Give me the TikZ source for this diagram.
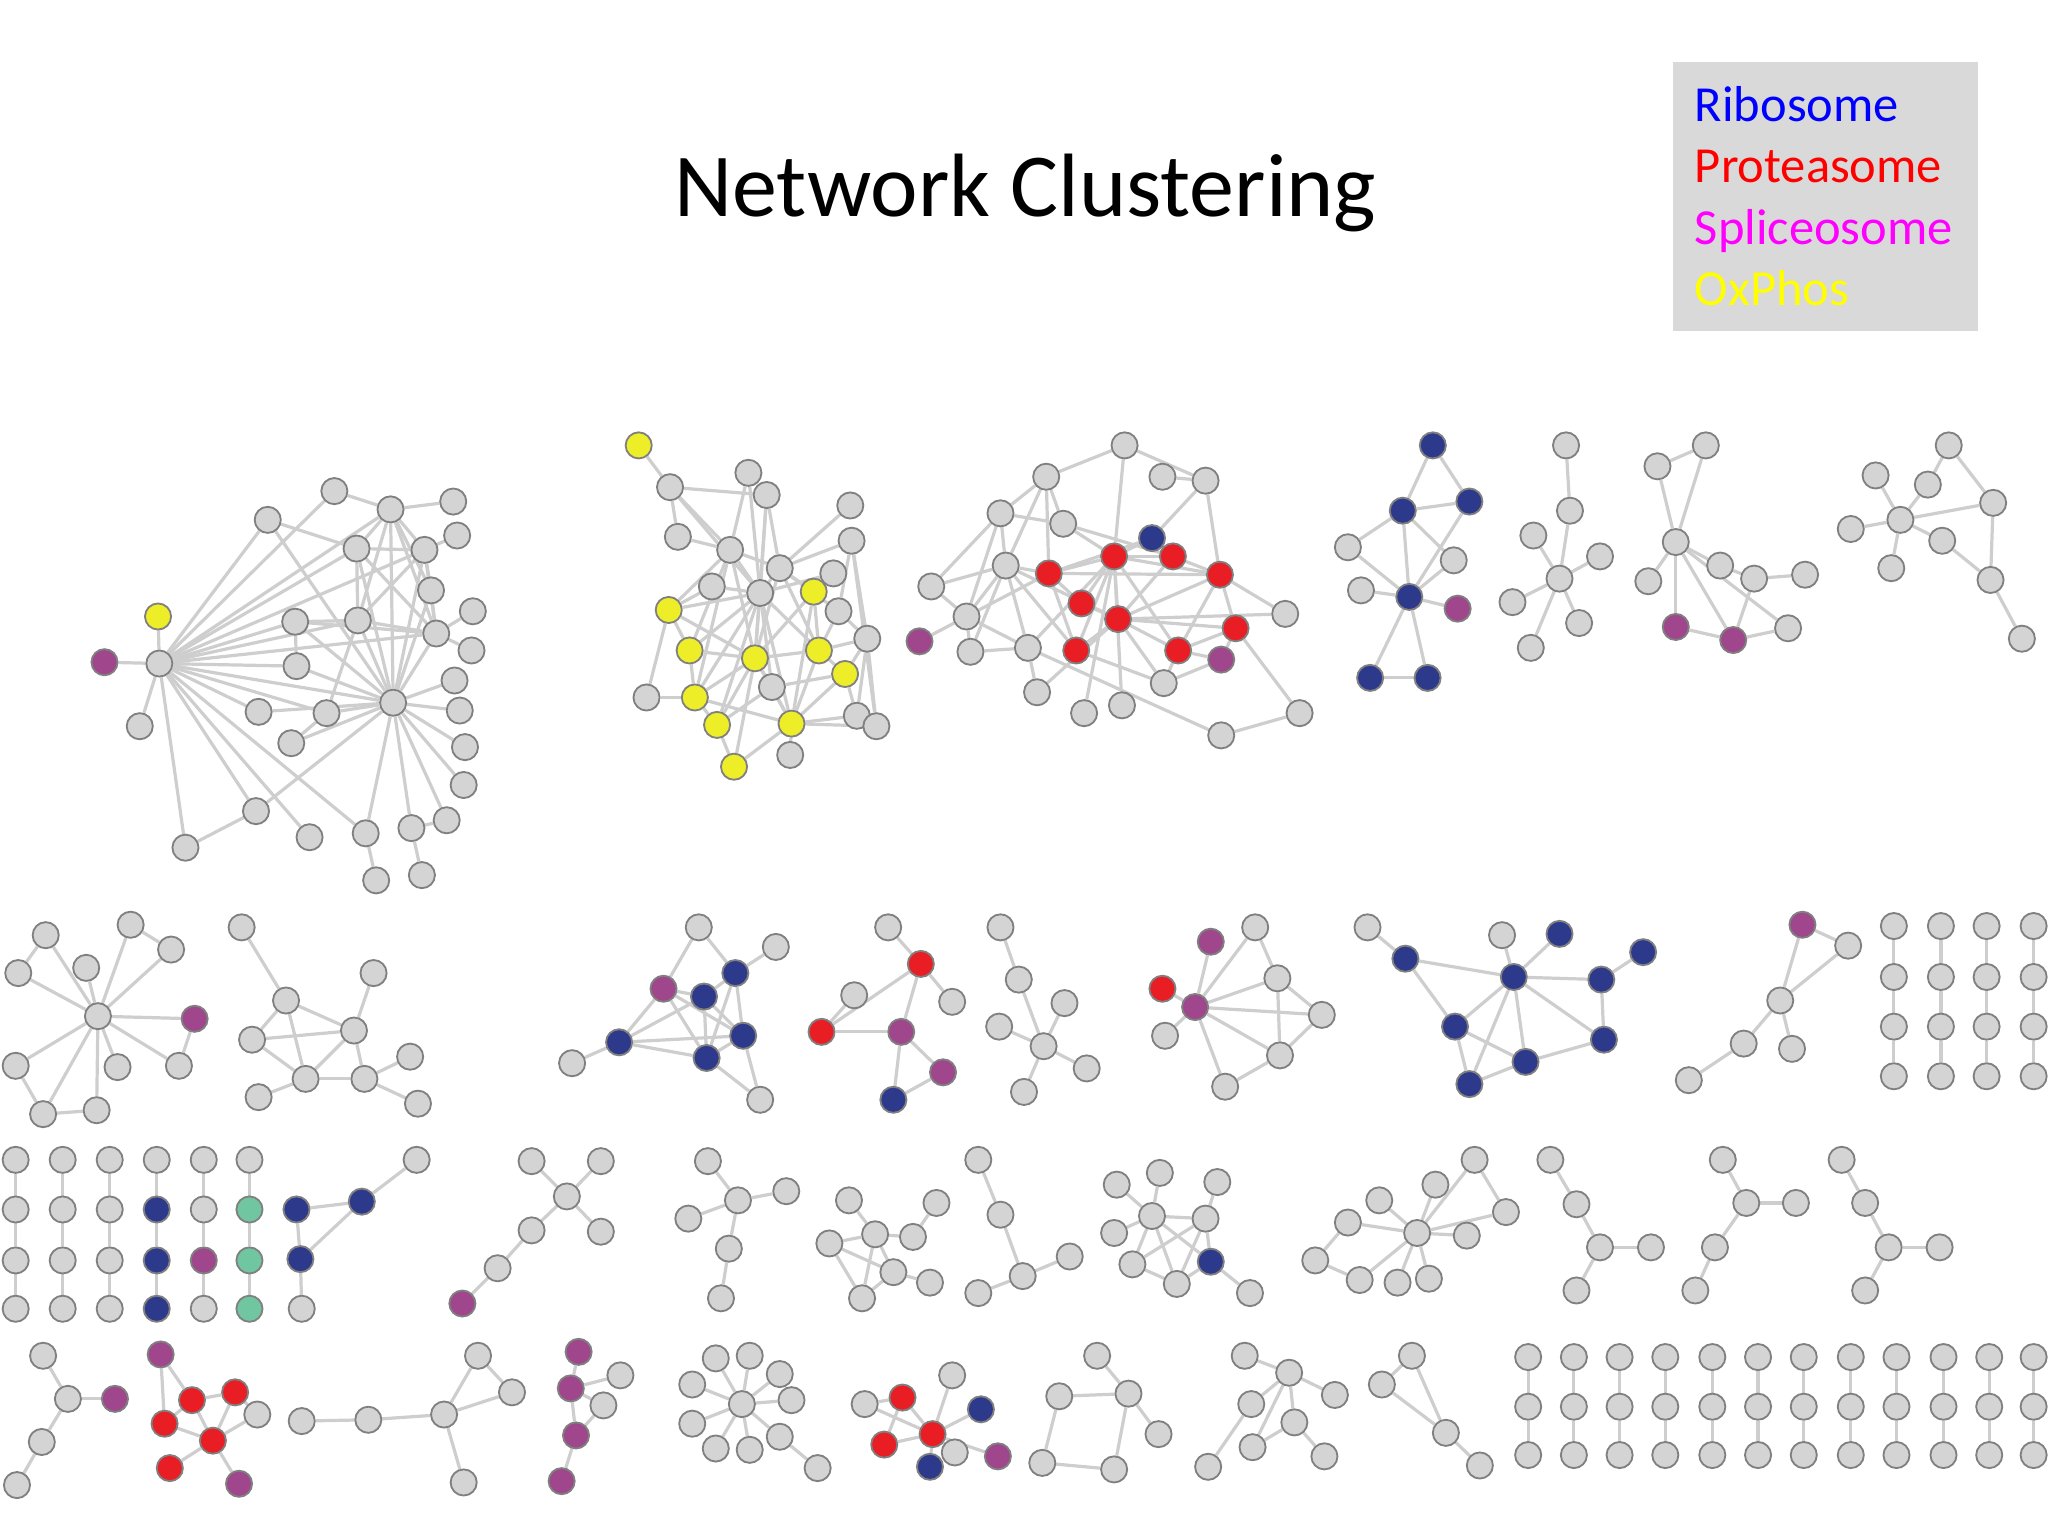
\documentclass[tikz,border=0pt]{standalone}
\usepackage{fontspec}
\setmainfont{Carlito}
\usetikzlibrary{backgrounds}
\definecolor{ribblue}{RGB}{45,58,140}
\definecolor{protred}{RGB}{232,30,36}
\definecolor{splpurple}{RGB}{160,70,140}
\definecolor{oxyellow}{RGB}{238,238,40}
\definecolor{othteal}{RGB}{112,198,160}
\definecolor{genegray}{RGB}{212,212,212}
\definecolor{linkgray}{RGB}{206,206,206}
\definecolor{leggray}{RGB}{217,217,217}
\definecolor{legblue}{RGB}{0,0,255}
\definecolor{legred}{RGB}{255,0,0}
\definecolor{legmagenta}{RGB}{255,0,255}
\definecolor{legyellow}{RGB}{255,255,0}
\tikzset{
  gene/.style    = {circle, draw=black!50, fill=genegray, minimum size=2mm,
                    inner sep=0pt, line width=0.4pt},
  ribo/.style    = {gene, fill=ribblue},
  prot/.style    = {gene, fill=protred},
  splice/.style  = {gene, fill=splpurple},
  oxphos/.style  = {gene, fill=oxyellow},
  extra/.style   = {gene, fill=othteal},
  link/.style    = {draw=linkgray, line width=0.7pt},
  legbox/.style  = {fill=leggray, draw=none, inner sep=0pt, anchor=north west},
  legtext/.style = {anchor=base west, inner sep=0pt, font=\fontsize{11}{13}\selectfont},
}

\begin{document}
\begin{tikzpicture}[x=0.1mm, y=-0.1mm]
\useasboundingbox (0,0) rectangle (1568,1176);

% title and legend
\node[font=\fontsize{19.6}{24}\selectfont] (title) at (785,148) {Network Clustering};
\node[legbox, minimum width=23.4mm, minimum height=20.6mm] (legend) at (1280,47) {};
\node[legtext, text=legblue] (lribo) at (1297,93) {Ribosome};
\node[legtext, text=legred] (lprot) at (1297,140) {Proteasome};
\node[legtext, text=legmagenta] (lspl) at (1297,187) {Spliceosome};
\node[legtext, text=legyellow] (lox) at (1297,234) {OxPhos};

% row 1, cluster a
\node[splice] (a1) at (80,507) {};
\node[gene] (a2) at (122,508) {};
\node[oxphos] (a3) at (121,472) {};
\node[gene] (a4) at (107,556) {};
\node[gene] (a5) at (142,649) {};
\node[gene] (a6) at (205,398) {};
\node[gene] (a7) at (256,376) {};
\node[gene] (a8) at (299,390) {};
\node[gene] (a9) at (347,384) {};
\node[gene] (a10) at (273,420) {};
\node[gene] (a11) at (325,421) {};
\node[gene] (a12) at (350,410) {};
\node[gene] (a13) at (330,452) {};
\node[gene] (a14) at (362,468) {};
\node[gene] (a15) at (226,476) {};
\node[gene] (a16) at (274,475) {};
\node[gene] (a17) at (334,485) {};
\node[gene] (a18) at (361,498) {};
\node[gene] (a19) at (227,510) {};
\node[gene] (a20) at (301,538) {};
\node[gene] (a21) at (348,521) {};
\node[gene] (a22) at (352,544) {};
\node[gene] (a23) at (356,572) {};
\node[gene] (a24) at (355,601) {};
\node[gene] (a25) at (198,545) {};
\node[gene] (a26) at (250,546) {};
\node[gene] (a27) at (223,569) {};
\node[gene] (a28) at (196,621) {};
\node[gene] (a29) at (237,641) {};
\node[gene] (a30) at (280,638) {};
\node[gene] (a31) at (315,634) {};
\node[gene] (a32) at (342,628) {};
\node[gene] (a33) at (288,674) {};
\node[gene] (a34) at (323,670) {};

% row 1, cluster b
\node[oxphos] (b1) at (489,341) {};
\node[gene] (b2) at (513,373) {};
\node[gene] (b3) at (573,362) {};
\node[gene] (b4) at (587,379) {};
\node[gene] (b5) at (651,387) {};
\node[gene] (b6) at (519,411) {};
\node[gene] (b7) at (559,421) {};
\node[gene] (b8) at (652,414) {};
\node[gene] (b9) at (597,435) {};
\node[gene] (b10) at (638,439) {};
\node[gene] (b11) at (545,449) {};
\node[gene] (b12) at (582,454) {};
\node[oxphos] (b13) at (623,453) {};
\node[oxphos] (b14) at (512,467) {};
\node[gene] (b15) at (642,468) {};
\node[gene] (b16) at (664,489) {};
\node[oxphos] (b17) at (528,498) {};
\node[oxphos] (b18) at (578,504) {};
\node[oxphos] (b19) at (627,498) {};
\node[oxphos] (b20) at (647,516) {};
\node[gene] (b21) at (591,526) {};
\node[gene] (b22) at (495,534) {};
\node[oxphos] (b23) at (532,534) {};
\node[oxphos] (b24) at (549,555) {};
\node[oxphos] (b25) at (606,554) {};
\node[gene] (b26) at (656,548) {};
\node[gene] (b27) at (671,556) {};
\node[gene] (b28) at (605,578) {};
\node[oxphos] (b29) at (562,587) {};

% row 1, cluster c
\node[gene] (c1) at (861,341) {};
\node[gene] (c2) at (801,365) {};
\node[gene] (c3) at (890,365) {};
\node[gene] (c4) at (923,368) {};
\node[gene] (c5) at (766,393) {};
\node[gene] (c6) at (814,401) {};
\node[ribo] (c7) at (882,412) {};
\node[prot] (c8) at (853,426) {};
\node[prot] (c9) at (898,426) {};
\node[gene] (c10) at (770,433) {};
\node[prot] (c11) at (803,439) {};
\node[prot] (c12) at (934,440) {};
\node[gene] (c13) at (713,449) {};
\node[prot] (c14) at (828,462) {};
\node[gene] (c15) at (740,472) {};
\node[prot] (c16) at (856,474) {};
\node[gene] (c17) at (984,470) {};
\node[prot] (c18) at (946,481) {};
\node[splice] (c19) at (704,491) {};
\node[gene] (c20) at (743,499) {};
\node[gene] (c21) at (787,496) {};
\node[prot] (c22) at (824,498) {};
\node[prot] (c23) at (902,498) {};
\node[splice] (c24) at (935,505) {};
\node[gene] (c25) at (891,523) {};
\node[gene] (c26) at (794,530) {};
\node[gene] (c27) at (859,540) {};
\node[gene] (c28) at (830,546) {};
\node[gene] (c29) at (995,546) {};
\node[gene] (c30) at (935,563) {};

% row 1, cluster d
\node[ribo] (d1) at (1097,341) {};
\node[ribo] (d2) at (1074,391) {};
\node[ribo] (d3) at (1125,384) {};
\node[gene] (d4) at (1032,419) {};
\node[gene] (d5) at (1113,429) {};
\node[gene] (d6) at (1042,452) {};
\node[ribo] (d7) at (1079,457) {};
\node[splice] (d8) at (1116,466) {};
\node[ribo] (d9) at (1049,519) {};
\node[ribo] (d10) at (1093,519) {};

% row 1, cluster e
\node[gene] (e1) at (1199,341) {};
\node[gene] (e2) at (1202,391) {};
\node[gene] (e3) at (1174,410) {};
\node[gene] (e4) at (1225,426) {};
\node[gene] (e5) at (1194,443) {};
\node[gene] (e6) at (1158,461) {};
\node[gene] (e7) at (1209,477) {};
\node[gene] (e8) at (1172,496) {};

% row 1, cluster f
\node[gene] (f1) at (1306,341) {};
\node[gene] (f2) at (1269,357) {};
\node[gene] (f3) at (1283,415) {};
\node[gene] (f4) at (1317,433) {};
\node[gene] (f5) at (1343,443) {};
\node[gene] (f6) at (1382,440) {};
\node[gene] (f7) at (1262,445) {};
\node[splice] (f8) at (1283,480) {};
\node[splice] (f9) at (1327,490) {};
\node[gene] (f10) at (1369,481) {};

% row 1, cluster g
\node[gene] (g1) at (1492,341) {};
\node[gene] (g2) at (1436,364) {};
\node[gene] (g3) at (1476,371) {};
\node[gene] (g4) at (1526,385) {};
\node[gene] (g5) at (1455,398) {};
\node[gene] (g6) at (1417,405) {};
\node[gene] (g7) at (1487,414) {};
\node[gene] (g8) at (1448,435) {};
\node[gene] (g9) at (1524,444) {};
\node[gene] (g10) at (1548,489) {};

% row 2, cluster h
\node[gene] (h1) at (35,716) {};
\node[gene] (h2) at (100,708) {};
\node[gene] (h3) at (14,745) {};
\node[gene] (h4) at (66,741) {};
\node[gene] (h5) at (131,727) {};
\node[gene] (h6) at (75,778) {};
\node[splice] (h7) at (149,780) {};
\node[gene] (h8) at (12,816) {};
\node[gene] (h9) at (90,817) {};
\node[gene] (h10) at (137,816) {};
\node[gene] (h11) at (33,853) {};
\node[gene] (h12) at (74,850) {};

% row 2, cluster i
\node[gene] (i1) at (185,710) {};
\node[gene] (i2) at (219,766) {};
\node[gene] (i3) at (286,745) {};
\node[gene] (i4) at (193,796) {};
\node[gene] (i5) at (271,789) {};
\node[gene] (i6) at (234,826) {};
\node[gene] (i7) at (279,826) {};
\node[gene] (i8) at (314,809) {};
\node[gene] (i9) at (198,840) {};
\node[gene] (i10) at (320,845) {};

% row 2, cluster j
\node[gene] (j1) at (535,710) {};
\node[gene] (j2) at (594,725) {};
\node[ribo] (j3) at (563,745) {};
\node[splice] (j4) at (508,757) {};
\node[ribo] (j5) at (539,763) {};
\node[ribo] (j6) at (569,793) {};
\node[ribo] (j7) at (474,798) {};
\node[gene] (j8) at (438,814) {};
\node[ribo] (j9) at (541,810) {};
\node[gene] (j10) at (582,842) {};

% row 2, cluster k
\node[gene] (k1) at (680,710) {};
\node[prot] (k2) at (705,738) {};
\node[gene] (k3) at (654,762) {};
\node[gene] (k4) at (729,767) {};
\node[prot] (k5) at (629,790) {};
\node[splice] (k6) at (690,790) {};
\node[splice] (k7) at (722,821) {};
\node[ribo] (k8) at (684,842) {};

% row 2, cluster l
\node[gene] (l1) at (766,710) {};
\node[gene] (l2) at (780,750) {};
\node[gene] (l3) at (815,768) {};
\node[gene] (l4) at (765,786) {};
\node[gene] (l5) at (799,801) {};
\node[gene] (l6) at (832,818) {};
\node[gene] (l7) at (784,836) {};

% row 2, cluster m
\node[gene] (m1) at (961,710) {};
\node[splice] (m2) at (927,721) {};
\node[gene] (m3) at (978,749) {};
\node[prot] (m4) at (890,757) {};
\node[splice] (m5) at (915,771) {};
\node[gene] (m6) at (1012,777) {};
\node[gene] (m7) at (892,793) {};
\node[gene] (m8) at (980,808) {};
\node[gene] (m9) at (938,832) {};

% row 2, cluster n
\node[gene] (n1) at (1047,710) {};
\node[ribo] (n2) at (1076,734) {};
\node[gene] (n3) at (1150,716) {};
\node[ribo] (n4) at (1194,715) {};
\node[ribo] (n5) at (1159,748) {};
\node[ribo] (n6) at (1258,729) {};
\node[ribo] (n7) at (1226,750) {};
\node[ribo] (n8) at (1114,786) {};
\node[ribo] (n9) at (1228,796) {};
\node[ribo] (n10) at (1168,813) {};
\node[ribo] (n11) at (1125,830) {};

% row 2, cluster o
\node[splice] (o1) at (1380,708) {};
\node[gene] (o2) at (1415,724) {};
\node[gene] (o3) at (1363,766) {};
\node[gene] (o4) at (1335,799) {};
\node[gene] (o5) at (1372,803) {};
\node[gene] (o6) at (1293,827) {};

% row 2, pairs grid p
\foreach \c/\gx in {1/1450,2/1486,3/1521,4/1557}
  \foreach \r/\gy in {1/709,2/748,3/786,4/824}
    \node[gene] (p\c-\r) at (\gx,\gy) {};

% row 3, pairs grid q
\foreach \c/\gx in {1/12,2/48,3/84}
  \foreach \r/\gy in {1/888,2/926,3/965,4/1002}
    \node[gene] (q\c-\r) at (\gx,\gy) {};
\node[gene] (q4-1) at (120,888) {};
\node[ribo] (q4-2) at (120,926) {};
\node[ribo] (q4-3) at (120,965) {};
\node[ribo] (q4-4) at (120,1002) {};
\node[gene] (q5-1) at (156,888) {};
\node[gene] (q5-2) at (156,926) {};
\node[splice] (q5-3) at (156,965) {};
\node[gene] (q5-4) at (156,1002) {};
\node[gene] (q6-1) at (191,888) {};
\node[extra] (q6-2) at (191,926) {};
\node[extra] (q6-3) at (191,965) {};
\node[extra] (q6-4) at (191,1002) {};
\node[ribo] (q7-2) at (227,926) {};
\node[ribo] (q7-3) at (230,964) {};
\node[gene] (q7-4) at (231,1002) {};
\node[ribo] (q8) at (277,920) {};
\node[gene] (q9) at (319,888) {};

% row 3, cluster r
\node[gene] (r1) at (407,889) {};
\node[gene] (r2) at (460,889) {};
\node[gene] (r3) at (434,916) {};
\node[gene] (r4) at (407,942) {};
\node[gene] (r5) at (460,943) {};
\node[gene] (r6) at (381,971) {};
\node[splice] (r7) at (354,998) {};

% row 3, cluster s
\node[gene] (s1) at (542,889) {};
\node[gene] (s2) at (565,919) {};
\node[gene] (s3) at (602,912) {};
\node[gene] (s4) at (527,933) {};
\node[gene] (s5) at (558,956) {};
\node[gene] (s6) at (552,994) {};

% row 3, cluster t
\node[gene] (t1) at (650,919) {};
\node[gene] (t2) at (717,921) {};
\node[gene] (t3) at (670,945) {};
\node[gene] (t4) at (699,947) {};
\node[gene] (t5) at (635,952) {};
\node[gene] (t6) at (684,974) {};
\node[gene] (t7) at (712,982) {};
\node[gene] (t8) at (660,994) {};

% row 3, cluster u
\node[gene] (u1) at (749,888) {};
\node[gene] (u2) at (766,930) {};
\node[gene] (u3) at (783,977) {};
\node[gene] (u4) at (819,962) {};
\node[gene] (u5) at (749,990) {};

% row 3, cluster v
\node[gene] (v1) at (888,898) {};
\node[gene] (v2) at (932,905) {};
\node[gene] (v3) at (855,907) {};
\node[gene] (v4) at (882,931) {};
\node[gene] (v5) at (923,933) {};
\node[gene] (v6) at (853,944) {};
\node[gene] (v7) at (867,968) {};
\node[ribo] (v8) at (927,966) {};
\node[gene] (v9) at (901,983) {};
\node[gene] (v10) at (957,990) {};

% row 3, cluster w
\node[gene] (w1) at (1129,888) {};
\node[gene] (w2) at (1099,907) {};
\node[gene] (w3) at (1056,919) {};
\node[gene] (w4) at (1153,928) {};
\node[gene] (w5) at (1032,936) {};
\node[gene] (w6) at (1085,944) {};
\node[gene] (w7) at (1123,946) {};
\node[gene] (w8) at (1007,965) {};
\node[gene] (w9) at (1041,980) {};
\node[gene] (w10) at (1070,982) {};
\node[gene] (w11) at (1094,979) {};

% row 3, clusters x, y, z
\node[gene] (x1) at (1187,888) {};
\node[gene] (x2) at (1207,922) {};
\node[gene] (x3) at (1225,955) {};
\node[gene] (x4) at (1264,955) {};
\node[gene] (x5) at (1207,988) {};
\node[gene] (y1) at (1319,888) {};
\node[gene] (y2) at (1337,921) {};
\node[gene] (y3) at (1375,921) {};
\node[gene] (y4) at (1313,955) {};
\node[gene] (y5) at (1298,988) {};
\node[gene] (z1) at (1410,888) {};
\node[gene] (z2) at (1428,921) {};
\node[gene] (z3) at (1446,955) {};
\node[gene] (z4) at (1485,955) {};
\node[gene] (z5) at (1428,988) {};

% row 4
\node[gene] (aa1) at (33,1038) {};
\node[gene] (aa2) at (52,1071) {};
\node[splice] (aa3) at (88,1071) {};
\node[gene] (aa4) at (32,1104) {};
\node[gene] (aa5) at (13,1137) {};

\node[splice] (bb1) at (123,1037) {};
\node[prot] (bb2) at (147,1072) {};
\node[prot] (bb3) at (180,1066) {};
\node[gene] (bb4) at (197,1083) {};
\node[prot] (bb5) at (126,1090) {};
\node[prot] (bb6) at (163,1103) {};
\node[prot] (bb7) at (130,1124) {};
\node[splice] (bb8) at (183,1136) {};

\node[gene] (cc1) at (231,1088) {};
\node[gene] (cc2) at (282,1087) {};
\node[gene] (cc3) at (340,1083) {};
\node[gene] (cc4) at (366,1038) {};
\node[gene] (cc5) at (392,1066) {};
\node[gene] (cc6) at (355,1135) {};

\node[splice] (dd1) at (443,1035) {};
\node[gene] (dd2) at (475,1053) {};
\node[splice] (dd3) at (437,1063) {};
\node[gene] (dd4) at (462,1076) {};
\node[splice] (dd5) at (441,1099) {};
\node[splice] (dd6) at (430,1134) {};

\node[gene] (ee1) at (548,1040) {};
\node[gene] (ee2) at (574,1038) {};
\node[gene] (ee3) at (597,1052) {};
\node[gene] (ee4) at (530,1060) {};
\node[gene] (ee5) at (568,1075) {};
\node[gene] (ee6) at (606,1072) {};
\node[gene] (ee7) at (530,1090) {};
\node[gene] (ee8) at (574,1110) {};
\node[gene] (ee9) at (597,1100) {};
\node[gene] (ee10) at (548,1109) {};
\node[gene] (ee11) at (626,1124) {};

\node[gene] (ff1) at (729,1053) {};
\node[gene] (ff2) at (662,1075) {};
\node[prot] (ff3) at (691,1070) {};
\node[ribo] (ff4) at (751,1079) {};
\node[prot] (ff5) at (714,1098) {};
\node[prot] (ff6) at (677,1106) {};
\node[gene] (ff7) at (731,1112) {};
\node[ribo] (ff8) at (712,1123) {};
\node[splice] (ff9) at (764,1115) {};

\node[gene] (gg1) at (840,1038) {};
\node[gene] (gg2) at (864,1067) {};
\node[gene] (gg3) at (887,1098) {};
\node[gene] (gg4) at (811,1069) {};
\node[gene] (gg5) at (798,1120) {};
\node[gene] (gg6) at (853,1125) {};

\node[gene] (hh1) at (953,1038) {};
\node[gene] (hh2) at (987,1051) {};
\node[gene] (hh3) at (958,1075) {};
\node[gene] (hh4) at (1022,1068) {};
\node[gene] (hh5) at (991,1089) {};
\node[gene] (hh6) at (959,1108) {};
\node[gene] (hh7) at (1014,1115) {};
\node[gene] (hh8) at (925,1123) {};

\node[gene] (ii1) at (1081,1038) {};
\node[gene] (ii2) at (1058,1060) {};
\node[gene] (ii3) at (1107,1097) {};
\node[gene] (ii4) at (1133,1122) {};

\foreach \c/\gx in {1/1170,2/1205,3/1240,4/1275,5/1311,6/1346,7/1381,8/1417,9/1452,10/1488,11/1523,12/1557}
  \foreach \r/\gy in {1/1039,2/1077,3/1114}
    \node[gene] (jj\c-\r) at (\gx,\gy) {};

% links
\begin{scope}[on background layer]
\foreach \u/\v in {a1/a2, a2/a3, a2/a4, a2/a5, a2/a6, a2/a7, a2/a8, a2/a10, a2/a11,
    a2/a15, a2/a16, a2/a17, a2/a19, a2/a20, a2/a25, a2/a26, a2/a28, a2/a29, a2/a30,
    a6/a10, a6/a20, a7/a8, a8/a9, a8/a10, a8/a11, a8/a16, a8/a17, a8/a20, a8/a13,
    a10/a11, a10/a16, a10/a20, a10/a17, a11/a12, a11/a13, a11/a17, a11/a20, a11/a16,
    a13/a17, a13/a20, a15/a16, a15/a19, a15/a17, a15/a20, a16/a17, a16/a20, a16/a26,
    a17/a14, a17/a18, a17/a20, a20/a21, a20/a22, a20/a23, a20/a24, a20/a25, a20/a26,
    a20/a27, a20/a28, a20/a30, a20/a31, a20/a32, a20/a19, a26/a27, a28/a5, a31/a32,
    a30/a33, a31/a34}
  \draw[link] (\u) -- (\v);
\foreach \u/\v in {b1/b2, b2/b6, b2/b7, b2/b4, b2/b12, b3/b7, b3/b12, b4/b12, b4/b9,
    b4/b18, b5/b9, b6/b7, b7/b12, b7/b9, b7/b14, b7/b18, b7/b17, b8/b9, b8/b15, b8/b16,
    b8/b27, b9/b12, b9/b13, b9/b15, b9/b18, b9/b19, b10/b12, b11/b12, b11/b14, b12/b14,
    b12/b17, b12/b18, b12/b19, b12/b21, b12/b23, b12/b25, b12/b24, b13/b19, b13/b18,
    b14/b17, b14/b22, b14/b18, b15/b16, b15/b19, b16/b19, b16/b20, b16/b26, b17/b23,
    b17/b18, b18/b19, b18/b21, b18/b23, b18/b24, b18/b25, b18/b29, b19/b20, b19/b25,
    b20/b25, b20/b26, b21/b25, b21/b24, b22/b23, b23/b24, b23/b25, b24/b29, b25/b26,
    b25/b27, b25/b28, b25/b29, b26/b27, b16/b27, b13/b25, b20/b21, b7/b23}
  \draw[link] (\u) -- (\v);
\foreach \u/\v in {c1/c2, c1/c4, c1/c8, c3/c4, c2/c5, c2/c6, c2/c10, c2/c11, c4/c12,
    c4/c7, c5/c6, c5/c10, c5/c13, c5/c15, c6/c8, c6/c9, c7/c8, c7/c11, c8/c9, c8/c11,
    c8/c14, c8/c16, c8/c12, c8/c22, c8/c23, c8/c21, c8/c27, c8/c28, c9/c12, c9/c16,
    c10/c11, c10/c13, c10/c15, c10/c20, c10/c21, c10/c22, c10/c16, c11/c14, c11/c22,
    c11/c12, c13/c15, c14/c16, c15/c19, c15/c20, c15/c21, c15/c11, c16/c22, c16/c23,
    c16/c18, c16/c26, c16/c25, c16/c12, c12/c17, c12/c18, c12/c23, c18/c23, c18/c24,
    c18/c29, c23/c24, c23/c25, c24/c25, c25/c22, c29/c30, c30/c21, c20/c21, c21/c26,
    c17/c16}
  \draw[link] (\u) -- (\v);
\foreach \u/\v in {d1/d2, d1/d3, d2/d3, d2/d4, d2/d7, d2/d5, d3/d7, d4/d7, d6/d7,
    d5/d7, d7/d8, d7/d9, d7/d10, d9/d10,
    e1/e2, e2/e5, e3/e5, e4/e5, e6/e5, e7/e5, e8/e5,
    f1/f2, f1/f3, f2/f3, f3/f4, f3/f7, f3/f8, f3/f9, f3/f10, f4/f5, f5/f6, f5/f9,
    f8/f9, f9/f10,
    g1/g3, g1/g4, g3/g5, g2/g5, g4/g5, g6/g5, g7/g5, g8/g5, g4/g9, g7/g9, g9/g10}
  \draw[link] (\u) -- (\v);
\foreach \u/\v in {h1/h3, h1/h6, h2/h6, h2/h5, h3/h6, h4/h6, h5/h6, h6/h7, h6/h8, h6/h9,
    h6/h10, h6/h11, h6/h12, h7/h10, h8/h11, h11/h12,
    i1/i2, i2/i4, i2/i5, i2/i6, i4/i5, i4/i6, i5/i3, i5/i6, i5/i7, i6/i7, i6/i9, i7/i8,
    i7/i10,
    j1/j4, j1/j3, j2/j3, j3/j5, j3/j6, j3/j9, j4/j5, j4/j7, j4/j9, j4/j6, j5/j7, j5/j9,
    j5/j6, j7/j8, j7/j6, j7/j9, j9/j6, j9/j10, j6/j10,
    k1/k2, k2/k5, k3/k5, k2/k4, k2/k6, k5/k6, k6/k8, k6/k7, k7/k8,
    l1/l2, l2/l5, l3/l5, l4/l5, l6/l5, l7/l5}
  \draw[link] (\u) -- (\v);
\foreach \u/\v in {m1/m3, m1/m5, m2/m5, m4/m5, m7/m5, m3/m5, m5/m6, m5/m8, m5/m9,
    m3/m6, m3/m8, m6/m8, m8/m9,
    n1/n2, n2/n5, n2/n8, n3/n5, n4/n5, n5/n7, n6/n7, n5/n8, n5/n9, n5/n10, n5/n11,
    n7/n9, n8/n10, n8/n11, n10/n11, n9/n10,
    o1/o2, o1/o3, o2/o3, o3/o4, o3/o5, o4/o6}
  \draw[link] (\u) -- (\v);
\foreach \c in {1,...,4}
  \foreach \r/\s in {1/2,2/3,3/4}
    \draw[link] (p\c-\r) -- (p\c-\s);
\foreach \c in {1,...,6}
  \foreach \r/\s in {1/2,2/3,3/4}
    \draw[link] (q\c-\r) -- (q\c-\s);
\foreach \u/\v in {q7-2/q7-3, q7-3/q7-4, q7-2/q8, q7-3/q8, q8/q9,
    r1/r3, r2/r3, r3/r4, r3/r5, r4/r6, r6/r7,
    s1/s2, s2/s3, s2/s4, s2/s5, s5/s6,
    t1/t3, t3/t4, t4/t2, t3/t5, t3/t6, t3/t8, t5/t6, t5/t8, t6/t7, t6/t8,
    u1/u2, u2/u3, u3/u4, u3/u5,
    v1/v4, v3/v4, v4/v5, v6/v4, v2/v5, v4/v7, v4/v9, v4/v8, v5/v7, v5/v8, v5/v9,
    v7/v9, v9/v8, v8/v10,
    w1/w4, w1/w6, w2/w6, w3/w6, w5/w6, w5/w8, w8/w9, w9/w6, w10/w6, w11/w6, w7/w6,
    w4/w6,
    x1/x2, x2/x3, x3/x4, x3/x5, y1/y2, y2/y3, y2/y4, y4/y5, z1/z2, z2/z3, z3/z4, z3/z5}
  \draw[link] (\u) -- (\v);
\foreach \u/\v in {aa1/aa2, aa2/aa3, aa2/aa4, aa4/aa5,
    bb1/bb5, bb1/bb2, bb2/bb3, bb2/bb6, bb2/bb5, bb3/bb6, bb3/bb4, bb5/bb6, bb6/bb7,
    bb6/bb8, bb6/bb4,
    cc1/cc2, cc2/cc3, cc3/cc4, cc3/cc5, cc4/cc5, cc3/cc6,
    dd1/dd3, dd3/dd5, dd5/dd6, dd3/dd2, dd3/dd4, dd5/dd4,
    ee5/ee1, ee5/ee2, ee5/ee3, ee5/ee4, ee5/ee6, ee5/ee7, ee5/ee8, ee5/ee9, ee5/ee10,
    ee9/ee11,
    ff5/ff1, ff5/ff2, ff5/ff3, ff5/ff4, ff5/ff6, ff5/ff7, ff5/ff8, ff5/ff9, ff3/ff6,
    ff2/ff3,
    gg1/gg2, gg2/gg3, gg2/gg4, gg4/gg5, gg2/gg6, gg5/gg6,
    hh2/hh1, hh2/hh3, hh2/hh4, hh2/hh5, hh2/hh6, hh5/hh7, hh3/hh8, hh6/hh5,
    ii1/ii2, ii2/ii3, ii1/ii3, ii3/ii4}
  \draw[link] (\u) -- (\v);
\foreach \c in {1,...,12}
  \foreach \r/\s in {1/2,2/3}
    \draw[link] (jj\c-\r) -- (jj\c-\s);
\end{scope}
\end{tikzpicture}
\end{document}
